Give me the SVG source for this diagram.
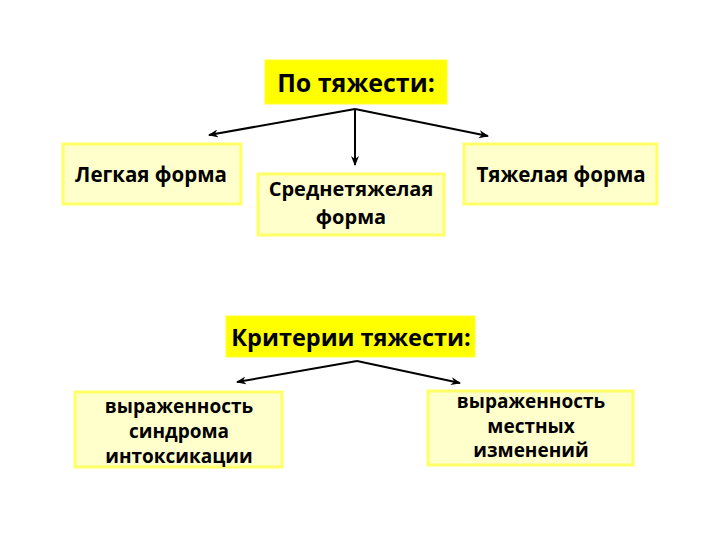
<svg xmlns="http://www.w3.org/2000/svg" width="720" height="540" viewBox="0 0 720 540">
<defs>
<marker id="ah" markerWidth="10" markerHeight="8" refX="9" refY="4" orient="auto" markerUnits="userSpaceOnUse">
<path d="M0,0 L10,4 L0,8 L3,4 Z" fill="#000"/>
</marker>
<style>
.hdr{fill:#ffff00;stroke:#ffff33;stroke-width:1}
.box{fill:#ffffcc;stroke:#ffff66;stroke-width:3}
text{font-family:"Open Sans","Liberation Sans",sans-serif;font-weight:bold;fill:#000;text-anchor:middle}
.t1{font-size:25px}
.t1b{font-size:23.5px}
.t2{font-size:20.5px}
.t2m{font-size:20px}
.t3{font-size:19px}
.c{fill:none;stroke:#000;stroke-width:2;marker-end:url(#ah)}
</style>
</defs>
<rect width="720" height="540" fill="#fff"/>
<g id="n-top"><rect class="hdr" x="265" y="60" width="182" height="44"/><text class="t1" x="356" y="92">По тяжести:</text></g>
<g id="n-light"><rect class="box" x="63" y="144" width="178" height="60"/><text class="t2" x="151" y="182">Легкая форма</text></g>
<g id="n-mid"><rect class="box" x="258" y="174" width="186" height="61"/><text class="t2m" x="351" y="196">Среднетяжелая</text><text class="t2m" x="351" y="224">форма</text></g>
<g id="n-heavy"><rect class="box" x="464" y="144" width="193" height="60"/><text class="t2" x="561" y="182">Тяжелая форма</text></g>
<g id="n-crit"><rect class="hdr" x="226" y="316" width="249" height="41"/><text class="t1b" x="351" y="346">Критерии тяжести:</text></g>
<g id="n-intox"><rect class="box" x="75" y="392" width="207" height="75"/><text class="t3" x="179" y="413">выраженность</text><text class="t3" x="179" y="438">синдрома</text><text class="t3" x="179" y="463">интоксикации</text></g>
<g id="n-local"><rect class="box" x="428" y="391" width="205" height="74"/><text class="t3" x="531" y="408">выраженность</text><text class="t3" x="531" y="433">местных</text><text class="t3" x="531" y="457">изменений</text></g>
<g id="connectors">
<path class="c" d="M355,109 L209,135"/>
<path class="c" d="M355,109 L355,165"/>
<path class="c" d="M355,109 L488,136"/>
<path class="c" d="M357,361 L237,382"/>
<path class="c" d="M357,361 L460,383"/>
</g>
</svg>
